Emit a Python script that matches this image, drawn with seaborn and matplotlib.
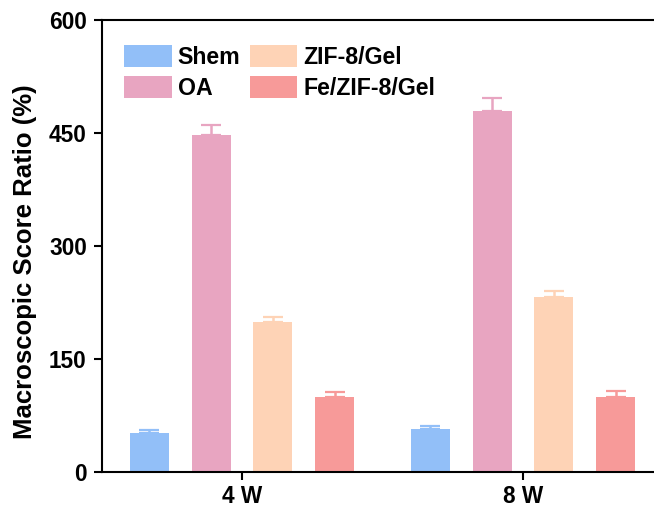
import matplotlib
matplotlib.use("Agg")
import matplotlib.pyplot as plt
import seaborn as sns
import pandas as pd

weeks = ["4 W", "8 W"]
groups = ["Shem", "OA", "ZIF-8/Gel", "Fe/ZIF-8/Gel"]
means = {
    "Shem": [52, 57],
    "OA": [447, 479],
    "ZIF-8/Gel": [199, 232],
    "Fe/ZIF-8/Gel": [100, 100],
}
errs = {
    "Shem": [4, 4],
    "OA": [14, 17],
    "ZIF-8/Gel": [7, 8],
    "Fe/ZIF-8/Gel": [6, 8],
}
colors = ["#92BFF8", "#E8A5C1", "#FED3B6", "#F79A99"]
yticks = [0, 150, 300, 450, 600]

rows = []
for g in groups:
    for w, v in zip(weeks, means[g]):
        rows.append({"week": w, "group": g, "value": v})
df = pd.DataFrame(rows)

sns.set_style("ticks")
plt.rcParams["font.family"] = ["Liberation Sans", "DejaVu Sans"]
plt.rcParams["font.weight"] = "bold"
for k in ["text.color", "axes.labelcolor", "xtick.color", "ytick.color"]:
    plt.rcParams[k] = "black"

fig = plt.figure(figsize=(6.54, 5.12), dpi=100)
ax = fig.add_axes([102/654, 1-472/512, 1-102/654, (472-20)/512])

sns.barplot(data=df, x="week", y="value", hue="group", order=weeks,
            hue_order=groups, palette=colors, width=0.88, gap=0.37,
            errorbar=None, saturation=1, ax=ax, linewidth=0)

for cont, g, c in zip(ax.containers, groups, colors):
    xs = [p.get_x() + p.get_width()/2 for p in cont.patches]
    hs = [p.get_height() for p in cont.patches]
    ax.errorbar(xs, hs, yerr=[[0]*len(hs), errs[g]], fmt="none",
                ecolor=c, elinewidth=1.8, capsize=7.5, capthick=1.6, zorder=1)

ax.set_ylim(0, 600)
ax.set_xlim(-0.498, 1.466)
ax.set_yticks(yticks)
ax.set_xlabel("")
ax.set_ylabel("Macroscopic Score Ratio (%)", fontsize=18.5, fontweight="bold",
              color="black")
ax.yaxis.set_label_coords(-0.118, 0.465)
ax.tick_params(axis="both", labelsize=16.3, width=1.5, length=6, direction="out",
               colors="black")
ax.tick_params(axis="y", pad=5)
for lab in ax.get_xticklabels() + ax.get_yticklabels():
    lab.set_fontweight("bold")
for s in ["left", "bottom", "top"]:
    ax.spines[s].set_linewidth(1.5)
    ax.spines[s].set_color("black")
ax.spines["right"].set_visible(False)

leg = ax.legend(ncol=2, loc="upper left", bbox_to_anchor=(0.023, 0.965),
                frameon=False, prop={"size": 16.7, "weight": "bold"},
                handlelength=2.05, handleheight=1.1, handletextpad=0.27,
                labelspacing=0.3, columnspacing=0.4, borderaxespad=0)

fig.savefig("out.png", dpi=100)
